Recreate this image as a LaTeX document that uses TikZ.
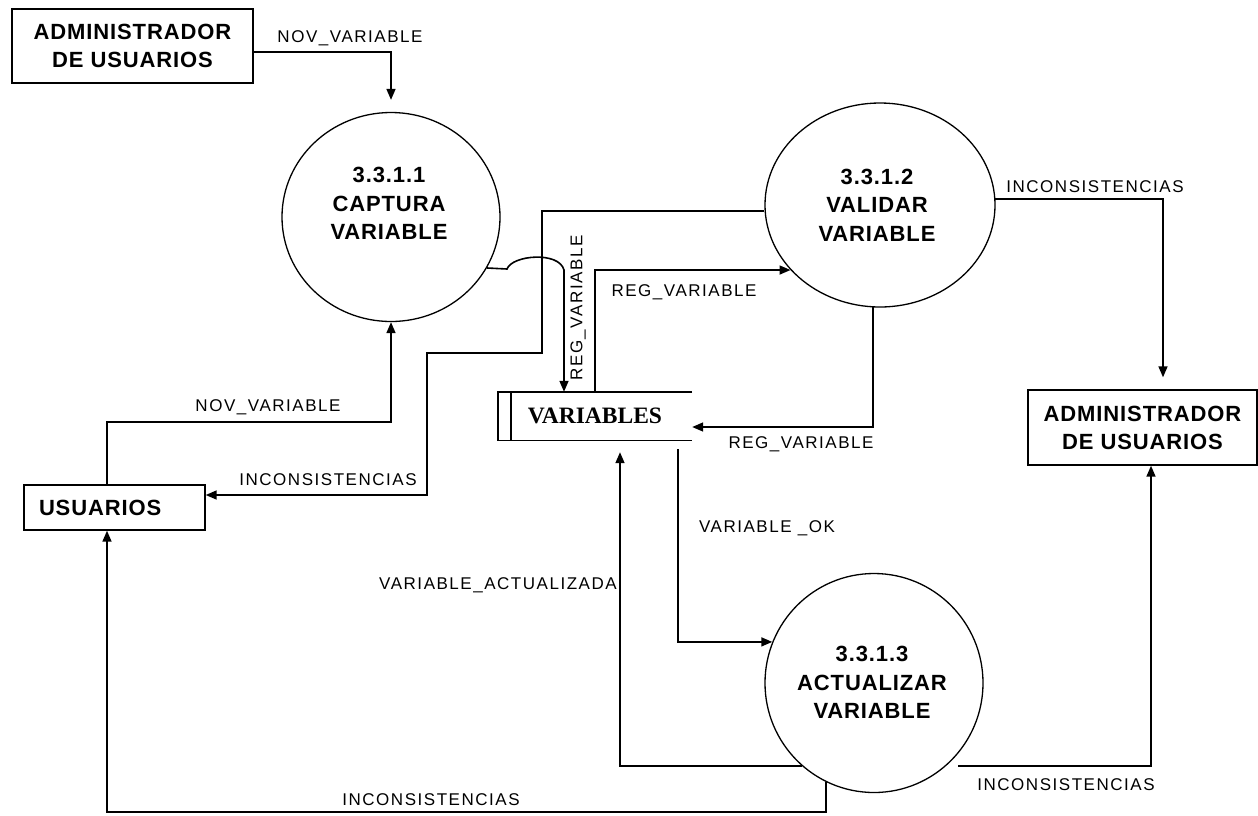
\documentclass[tikz,border=0pt]{standalone}
\usepackage{fontspec}
\setmainfont{Liberation Sans}
\newfontfamily\ttlfont[LetterSpace=4]{Liberation Sans}
\newfontfamily\lblfont[LetterSpace=9]{Liberation Sans}
\newfontfamily\storefont{Liberation Serif}
\usetikzlibrary{arrows.meta,shapes.geometric,calc}
\tikzset{
  proc/.style={ellipse, draw, line width=1.3pt, inner sep=0pt},
  ptext/.style={align=center, inner sep=0pt, font=\ttlfont\bfseries\fontsize{22}{28.5}\selectfont},
  ext/.style={draw, line width=1.4pt, align=center, inner sep=0pt, font=\ttlfont\bfseries\fontsize{22}{28}\selectfont},
  flow/.style={line width=1.6pt, -{Triangle[length=11pt,width=9pt]}},
  lbl/.style={font=\lblfont\fontsize{17}{19}\selectfont, inner sep=0pt},
  storeline/.style={line width=1.4pt}
}
\begin{document}
\begin{tikzpicture}[x=1pt,y=-1pt]
\useasboundingbox (0,0) rectangle (1258,815);
\fill[white] (0,0) rectangle (1258,815);

% external entities
\node[ext, minimum width=241pt, minimum height=74pt] (admin1) at (132.5,46) {ADMINISTRADOR\\DE USUARIOS};
\node[ext, minimum width=229pt, minimum height=75pt] (admin2) at (1142.5,427.5) {ADMINISTRADOR\\DE USUARIOS};
\node[ext, minimum height=45pt, text width=151pt, inner xsep=15pt, align=left] (usu) at (114.5,507.5) {USUARIOS};

% processes
\node[proc, minimum width=218pt, minimum height=209pt] (c1) at (391,217) {};
\node[ptext] (c1t) at (389,203.5) {3.3.1.1\\CAPTURA\\VARIABLE};
\node[proc, minimum width=230pt, minimum height=204pt] (c2) at (880,205) {};
\node[ptext] (c2t) at (877,205) {3.3.1.2\\VALIDAR\\VARIABLE};
\node[proc, minimum width=218pt, minimum height=219pt] (c3) at (874,683) {};
\node[ptext] (c3t) at (872,682.5) {3.3.1.3\\ACTUALIZAR\\VARIABLE};

% data store
\node[minimum width=194pt, minimum height=48pt, inner sep=0pt, font=\storefont\bfseries\fontsize{23.5}{25}\selectfont] (store) at (595,416) {VARIABLES};
\draw[storeline] (store.north east) -- (store.north west) -- (store.south west) -- (store.south east);
\draw[storeline] ($(store.north west)+(13,0)$) -- ($(store.south west)+(13,0)$);

% flows
\draw[flow, shorten >=12pt] (admin1.east |- 0,52) -| (c1.north);
\draw[flow] (usu.north -| 107,0) -- (107,422) -| (c1.south);
\draw[flow] (c2.west |- 0,211) -- (542,211) -- (542,353) -- (427,353) |- (usu.east |- 0,495);
\draw[flow] (c1.-28.4) -- (507,269) .. controls (512,255) and (559,251) .. (564,270) -- (store.north -| 564,0);
\draw[flow] (store.north -| 595,0) |- (c2.216.9);
\draw[flow] (c2.-94) |- (store.east |- 0,427);
\draw[flow, shorten <=9pt] (store.south -| 678,0) |- (c3.158.5);
\draw[flow, shorten >=12pt] (c3.229.4) -| (store.south -| 620,0);
\draw[flow] (c3.244.6) -- (c3.244.6 |- 0,812) -| (usu.south -| 107,0);
\draw[flow, shorten <=12pt] (c3.-49.4) -| (admin2.south -| 1151,0);
\draw[flow, shorten >=12pt] (c2.3.5) -| (admin2.north -| 1163,0);

% labels
\node[lbl] (l1) at (350,38) {NOV\_VARIABLE};
\node[lbl] (l2) at (268,407) {NOV\_VARIABLE};
\node[lbl] (l3) at (328,480) {INCONSISTENCIAS};
\node[lbl, rotate=90] (l4) at (578,308) {REG\_VARIABLE};
\node[lbl] (l5) at (684,292) {REG\_VARIABLE};
\node[lbl] (l6) at (801,444) {REG\_VARIABLE};
\node[lbl] (l7) at (1095,187) {INCONSISTENCIAS};
\node[lbl] (l8) at (767,528) {VARIABLE \_OK};
\node[lbl] (l9) at (498,585) {VARIABLE\_ACTUALIZADA};
\node[lbl] (l10) at (431,800) {INCONSISTENCIAS};
\node[lbl] (l11) at (1066,785) {INCONSISTENCIAS};
\end{tikzpicture}
\end{document}
